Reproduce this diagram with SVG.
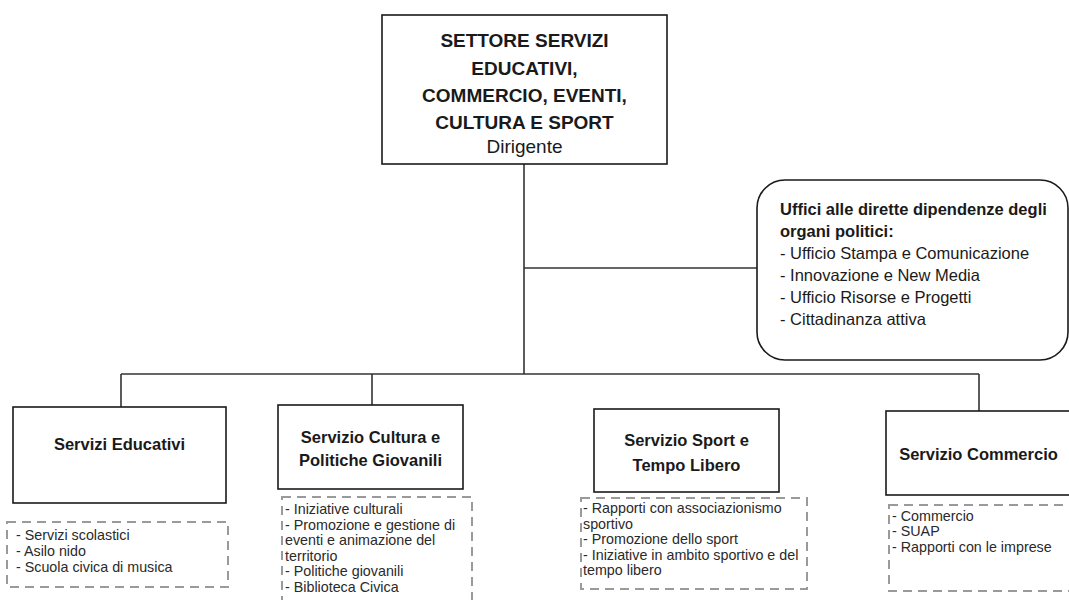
<svg xmlns="http://www.w3.org/2000/svg" width="1069" height="600" viewBox="0 0 1069 600">
<style>
.box{fill:#fff;stroke:#1a1a1a;stroke-width:1.6}
.dash{fill:#fff;stroke:#9a9a9a;stroke-width:2;stroke-dasharray:9 6}
.conn{fill:none;stroke:#333;stroke-width:1.6}
.t{font-family:"Liberation Sans",Arial,sans-serif;fill:#1a1a1a}
.b{font-weight:bold}
.head{font-size:19px;font-weight:bold;text-anchor:middle}
.sub{font-size:16.5px;font-weight:bold;text-anchor:middle}
.uf{font-size:16.5px}
.li{font-size:14.3px;fill:#2a2a2a}
</style>
<rect width="1069" height="600" fill="#fff"/>
<g id="connectors">
<path class="conn" d="M524 164V374"/>
<path class="conn" d="M524 268H757"/>
<path class="conn" d="M121 374H979"/>
<path class="conn" d="M121 374V407"/>
<path class="conn" d="M372 374V405"/>
<path class="conn" d="M979 374V411"/>
</g>
<g id="settore">
<rect class="box" x="382" y="15" width="285" height="149"/>
<text class="t head" x="524.5" y="47">SETTORE SERVIZI</text>
<text class="t head" x="524.5" y="75">EDUCATIVI,</text>
<text class="t head" x="524.5" y="102">COMMERCIO, EVENTI,</text>
<text class="t head" x="524.5" y="129">CULTURA E SPORT</text>
<text class="t" x="524.5" y="153" font-size="19" text-anchor="middle">Dirigente</text>
</g>
<g id="uffici">
<rect class="box" x="757" y="180" width="311" height="180" rx="28"/>
<text class="t uf b" x="780" y="215">Uffici alle dirette dipendenze degli</text>
<text class="t uf b" x="780" y="237">organi politici:</text>
<text class="t uf" x="780" y="259">- Ufficio Stampa e Comunicazione</text>
<text class="t uf" x="780" y="281">- Innovazione e New Media</text>
<text class="t uf" x="780" y="303">- Ufficio Risorse e Progetti</text>
<text class="t uf" x="780" y="325">- Cittadinanza attiva</text>
</g>
<g id="educativi">
<rect class="box" x="13" y="407" width="213" height="96"/>
<text class="t sub" x="119.5" y="450">Servizi Educativi</text>
<rect class="dash" x="7" y="522" width="221" height="65"/>
<text class="t li" x="16" y="540">- Servizi scolastici</text>
<text class="t li" x="16" y="556">- Asilo nido</text>
<text class="t li" x="16" y="572">- Scuola civica di musica</text>
</g>
<g id="cultura">
<rect class="box" x="278" y="405" width="185" height="84"/>
<text class="t sub" x="370.5" y="443">Servizio Cultura e</text>
<text class="t sub" x="370.5" y="466">Politiche Giovanili</text>
<rect class="dash" x="282" y="497" width="190" height="104"/>
<text class="t li" x="285" y="514">- Iniziative culturali</text>
<text class="t li" x="285" y="530">- Promozione e gestione di</text>
<text class="t li" x="285" y="545">eventi e animazione del</text>
<text class="t li" x="285" y="561">territorio</text>
<text class="t li" x="285" y="576">- Politiche giovanili</text>
<text class="t li" x="285" y="592">- Biblioteca Civica</text>
</g>
<g id="sport">
<rect class="box" x="594" y="409" width="185" height="83"/>
<text class="t sub" x="686.5" y="446">Servizio Sport e</text>
<text class="t sub" x="686.5" y="471">Tempo Libero</text>
<rect class="dash" x="581" y="498" width="226" height="91"/>
<text class="t li" x="583" y="513">- Rapporti con associazionismo</text>
<text class="t li" x="583" y="528.5">sportivo</text>
<text class="t li" x="583" y="544">- Promozione dello sport</text>
<text class="t li" x="583" y="559.5">- Iniziative in ambito sportivo e del</text>
<text class="t li" x="583" y="575">tempo libero</text>
</g>
<g id="commercio">
<rect class="box" x="886" y="411" width="186" height="84"/>
<text class="t sub" x="978.5" y="460">Servizio Commercio</text>
<rect class="dash" x="889" y="505" width="186" height="86"/>
<text class="t li" x="892" y="521">- Commercio</text>
<text class="t li" x="892" y="536">- SUAP</text>
<text class="t li" x="892" y="552">- Rapporti con le imprese</text>
</g>
</svg>
